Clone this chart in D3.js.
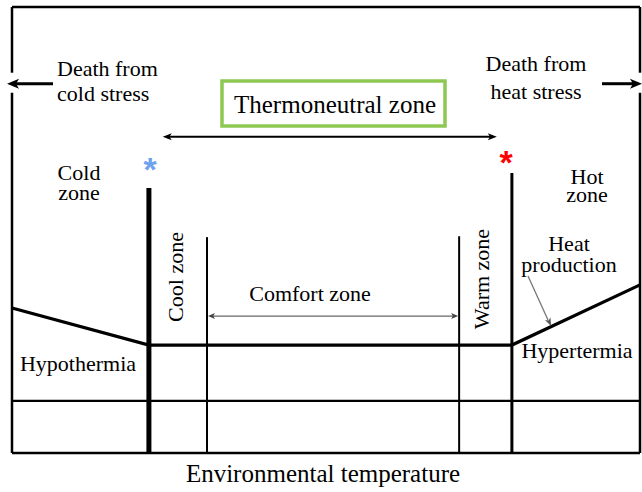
<!DOCTYPE html>
<html><head>
<script src="https://cdn.jsdelivr.net/npm/d3@7"></script>
</head>
<body style="margin:0;background:#fff">
<script>
// ---- data (schematic units: temperature 0-100, heat production 0-100) ----
const zoneNames = ["Cold zone", "Cool zone", "Comfort zone", "Warm zone", "Hot zone"];
const zoneBounds = [0, 21.8, 31.05, 71.2, 79.6, 100];         // temperature boundaries
const boundaryTops = [59.4, 48.4, 48.6, 62.8];                  // top of each inner boundary line
const boundaryWidths = [5, 2, 2, 3];
const heatProduction = [[0, 32.5], [21.8, 24.2], [79.6, 24.2], [100, 37.7]];
const baselineLevel = 11.7;
const thermoneutralRange = [24.0, 77.2];
const thermoneutralLevel = 70.9;
const comfortLevel = 30.7;
const deathLevel = 82.8;

const W = 642, H = 492;
const x = d3.scaleLinear().domain([0, 100]).range([12, 640]);
const y = d3.scaleLinear().domain([0, 100]).range([453, 7]);

const svg = d3.select("body").append("svg").attr("width", W).attr("height", H)
  .style("display", "block");

function arrowHead(g, tipX, tipY, dir, len, half, color) {
  const c = Math.cos(dir), s = Math.sin(dir);
  const bx = tipX - c * len, by = tipY - s * len;
  g.append("path")
    .attr("d", `M${tipX},${tipY}L${bx - s * half},${by + c * half}L${bx + c * len * 0.25},${by + s * len * 0.25}L${bx + s * half},${by - c * half}Z`)
    .attr("fill", color);
}

// frame
const frame = svg.append("g").attr("stroke", "#000").attr("stroke-width", 2.5).attr("fill", "none");
frame.append("line").attr("x1", x(0)).attr("x2", x(100)).attr("y1", y(100)).attr("y2", y(100));
frame.append("line").attr("x1", x(0)).attr("x2", x(100)).attr("y1", y(0)).attr("y2", y(0));
[0, 100].forEach(t => {
  frame.append("line").attr("x1", x(t)).attr("x2", x(t)).attr("y1", y(100)).attr("y2", y(deathLevel) - 11);
  frame.append("line").attr("x1", x(t)).attr("x2", x(t)).attr("y1", y(deathLevel) + 9).attr("y2", y(0));
});

// inner boundary lines
zoneBounds.slice(1, 5).forEach((t, i) => {
  svg.append("line").attr("x1", x(t)).attr("x2", x(t))
    .attr("y1", y(boundaryTops[i])).attr("y2", y(0))
    .attr("stroke", "#000").attr("stroke-width", boundaryWidths[i]);
});

// lower baseline
svg.append("line").attr("x1", x(0)).attr("x2", x(100)).attr("y1", y(baselineLevel)).attr("y2", y(baselineLevel))
  .attr("stroke", "#000").attr("stroke-width", 2.2);

// heat production line
svg.append("path").datum(heatProduction)
  .attr("d", d3.line().x(d => x(d[0])).y(d => y(d[1])))
  .attr("fill", "none").attr("stroke", "#000").attr("stroke-width", 3.2).attr("stroke-linejoin", "miter");

// death arrows
const da = svg.append("g");
da.append("line").attr("x1", 53).attr("x2", 14).attr("y1", y(deathLevel)).attr("y2", y(deathLevel)).attr("stroke", "#000").attr("stroke-width", 3);
arrowHead(da, 7, y(deathLevel), Math.PI, 12, 5, "#000");
da.append("line").attr("x1", 602).attr("x2", 634).attr("y1", y(deathLevel)).attr("y2", y(deathLevel)).attr("stroke", "#000").attr("stroke-width", 3);
arrowHead(da, 642, y(deathLevel), 0, 12, 5, "#000");

// thermoneutral arrow
const ta = svg.append("g");
ta.append("line").attr("x1", x(thermoneutralRange[0]) + 4).attr("x2", x(thermoneutralRange[1]) - 4)
  .attr("y1", y(thermoneutralLevel)).attr("y2", y(thermoneutralLevel)).attr("stroke", "#000").attr("stroke-width", 2);
arrowHead(ta, x(thermoneutralRange[0]), y(thermoneutralLevel), Math.PI, 9, 3.5, "#000");
arrowHead(ta, x(thermoneutralRange[1]), y(thermoneutralLevel), 0, 9, 3.5, "#000");

// comfort arrow
const ca = svg.append("g");
ca.append("line").attr("x1", x(zoneBounds[2]) + 5).attr("x2", x(zoneBounds[3]) - 5)
  .attr("y1", y(comfortLevel)).attr("y2", y(comfortLevel)).attr("stroke", "#666").attr("stroke-width", 1.2);
arrowHead(ca, x(zoneBounds[2]) + 1, y(comfortLevel), Math.PI, 7, 3, "#444");
arrowHead(ca, x(zoneBounds[3]) - 1, y(comfortLevel), 0, 7, 3, "#444");

// heat production pointer
const hp = svg.append("g");
hp.append("line").attr("x1", 528).attr("y1", 276).attr("x2", 548).attr("y2", 320).attr("stroke", "#777").attr("stroke-width", 1.3);
arrowHead(hp, 551, 326, Math.atan2(51, 22.5), 8, 3, "#555");

// thermoneutral box
svg.append("rect").attr("x", 222).attr("y", 81).attr("width", 223).attr("height", 45)
  .attr("fill", "#fff").attr("stroke", "#8dc853").attr("stroke-width", 3.5);

// labels (multi-line labels use tspans in one text element)
const labels = [
  {lines: ["Thermoneutral zone"], x: 335, y: 113, s: 25, a: "middle", dy: 0},
  {lines: ["Death from", "cold stress"], x: 57, y: 76, s: 22, a: "start", dy: 25},
  {lines: ["Death from", "heat stress"], x: 536, y: 71, s: 22, a: "middle", dy: 28},
  {lines: ["Cold", "zone"], x: 79, y: 180, s: 22, a: "middle", dy: 20},
  {lines: ["Hot", "zone"], x: 587, y: 184, s: 22, a: "middle", dy: 18},
  {lines: ["Heat", "production"], x: 569, y: 251, s: 22, a: "middle", dy: 21},
  {lines: ["Comfort zone"], x: 310, y: 301, s: 22, a: "middle", dy: 0},
  {lines: ["Hypothermia"], x: 78, y: 371, s: 22, a: "middle", dy: 0},
  {lines: ["Hypertermia"], x: 577, y: 358, s: 22, a: "middle", dy: 0},
  {lines: ["Environmental temperature"], x: 323, y: 482, s: 25, a: "middle", dy: 0}
];
const lt = svg.selectAll("text.lbl").data(labels).join("text").attr("class", "lbl")
  .attr("x", d => d.x).attr("y", d => d.y).attr("font-size", d => d.s)
  .attr("text-anchor", d => d.a)
  .style("font-family", "Times New Roman").attr("fill", "#000");
lt.selectAll("tspan").data(d => d.lines.map((l, i) => ({l, i, p: d}))).join("tspan")
  .attr("x", d => d.p.x).attr("dy", d => d.i === 0 ? 0 : d.p.dy).text(d => d.l);

const vlabels = [
  {t: "Cool zone", x: 183, y: 277},
  {t: "Warm zone", x: 489, y: 279}
];
svg.selectAll("text.vl").data(vlabels).join("text").attr("class", "vl")
  .attr("transform", d => `translate(${d.x},${d.y}) rotate(-90)`)
  .attr("font-size", 22).attr("text-anchor", "middle")
  .style("font-family", "Times New Roman").text(d => d.t);

// asterisks
const stars = [{x: 150, y: 181, c: "#6fa2ee"}, {x: 506, y: 174, c: "#ff0000"}];
svg.selectAll("text.star").data(stars).join("text").attr("class", "star")
  .attr("x", d => d.x).attr("y", d => d.y).attr("font-size", 34).attr("font-weight", "bold")
  .attr("text-anchor", "middle").style("font-family", "Liberation Sans")
  .attr("fill", d => d.c).text("*");
</script>
</body></html>
